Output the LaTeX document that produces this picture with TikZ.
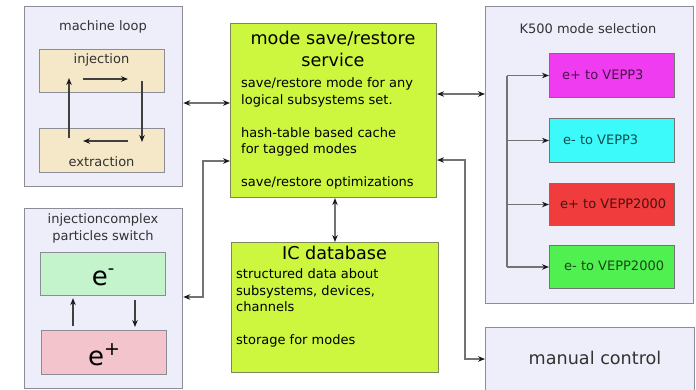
\documentclass[tikz,border=0pt]{standalone}
\usepackage{fontspec}
\setmainfont{DejaVu Sans}
\usetikzlibrary{arrows.meta}
\definecolor{outerfill}{RGB}{238,238,250}
\definecolor{outerdraw}{RGB}{140,140,150}
\definecolor{wheatfill}{RGB}{245,232,200}
\definecolor{svcfill}{RGB}{205,246,62}
\definecolor{svcdraw}{RGB}{125,135,90}
\definecolor{emfill}{RGB}{196,244,204}
\definecolor{epfill}{RGB}{244,196,204}
\definecolor{magfill}{RGB}{240,60,240}
\definecolor{cyafill}{RGB}{60,250,250}
\definecolor{redfill}{RGB}{240,60,60}
\definecolor{grnfill}{RGB}{80,240,80}
\definecolor{linegrey}{RGB}{115,115,115}
\definecolor{titlegrey}{RGB}{50,50,50}
\tikzset{
  outer/.style={draw=outerdraw, fill=outerfill, line width=1.3pt, anchor=north west, inner sep=0pt},
  inner/.style={draw=outerdraw, line width=1.1pt, anchor=north west, inner sep=0pt},
  conn/.style={draw=linegrey, line width=1.1pt},
  tconn/.style={draw=black!75, line width=1.1pt},
  small/.style={font=\fontsize{13}{16.5}\selectfont, inner sep=0pt},
  big/.style={font=\fontsize{17.6}{22}\selectfont, inner sep=0pt},
  huge/.style={font=\fontsize{26}{30}\selectfont, inner sep=0pt},
  kbox/.style={draw=black!55, line width=1pt, anchor=north west, inner sep=0pt, minimum width=125pt, minimum height=44pt},
}
\begin{document}
\begin{tikzpicture}[x=1pt,y=-1pt,>={Stealth[length=7pt,width=5.5pt,color=black!90]}]
\clip (0,0) rectangle (696,389);
\fill[white] (0,0) rectangle (696,389);

% machine loop
\node[outer, minimum width=158pt, minimum height=180pt] (loop) at (24,6) {};
\node[small, text=titlegrey, anchor=base] (looptitle) at (103,30.5) {machine loop};
\node[inner, fill=wheatfill, minimum width=125pt, minimum height=43pt] (inj) at (39,49) {};
\node[inner, fill=wheatfill, minimum width=125pt, minimum height=44pt] (ext) at (39,128) {};
\node[small, text=titlegrey, anchor=base] (injt) at (101.5,63.5) {injection};
\node[small, text=titlegrey, anchor=base] (extt) at (101.5,166.5) {extraction};
\coordinate (l1) at (83,79); \coordinate (l2) at (128,79);
\coordinate (l3) at (142,81); \coordinate (l4) at (142,142);
\coordinate (l5) at (128,141); \coordinate (l6) at (83,141);
\coordinate (l7) at (69,138); \coordinate (l8) at (69,78);
\draw[tconn,->] (l1) -- (l2);
\draw[tconn,->] (l3) -- (l4);
\draw[tconn,->] (l5) -- (l6);
\draw[tconn,->] (l7) -- (l8);

% particles switch
\node[outer, minimum width=158pt, minimum height=180pt] (switch) at (24,207.5) {};
\node[small, text=titlegrey, anchor=base, align=center, font=\fontsize{13}{17}\selectfont] (swtitle) at (103,240.5) {injectioncomplex\\particles switch};
\node[inner, fill=emfill, minimum width=125pt, minimum height=43pt] (eminus) at (40,252) {};
\node[inner, fill=epfill, minimum width=125pt, minimum height=44pt] (eplus) at (41,330) {};
\node[huge, anchor=base] (emt) at (103,285.5) {e\raisebox{0.42em}{\fontsize{18}{18}\selectfont -}};
\node[huge, anchor=base] (ept) at (104,365) {e\raisebox{0.36em}{\fontsize{19}{19}\selectfont +}};
\coordinate (sa) at (73,0); \coordinate (sb) at (135,0);
\draw[tconn,->,shorten <=4pt,shorten >=2pt] (eplus.north -| sa) -- (eminus.south -| sa);
\draw[tconn,->,shorten <=4pt,shorten >=3pt] (eminus.south -| sb) -- (eplus.north -| sb);

% mode save/restore service
\node[inner, draw=svcdraw, fill=svcfill, minimum width=206pt, minimum height=174pt] (svc) at (230,23) {};
\node[big, anchor=base, align=center] (svctitle) at (333,66) {mode save/restore\\service};
\node[small, anchor=base west, align=left] (svctext) at (241,186.5) {save/restore mode for any\\logical subsystems set.\\[16.5pt]hash-table based cache\\for tagged modes\\[16.5pt]save/restore optimizations};

% IC database
\node[inner, draw=svcdraw, fill=svcfill, minimum width=207pt, minimum height=130pt] (ic) at (230.5,242) {};
\node[big, anchor=base] (ictitle) at (334.5,259.5) {IC database};
\node[small, anchor=base west, align=left] (ictext) at (236,344.5) {structured data about\\subsystems, devices,\\channels\\[16.5pt]storage for modes};

% K500 mode selection
\node[outer, minimum width=208pt, minimum height=297pt] (k500) at (485,6) {};
\node[small, text=titlegrey, anchor=base] (ktitle) at (588,33.5) {K500 mode selection};
\node[kbox, fill=magfill] (b1) at (549,53) {};
\node[kbox, fill=cyafill] (b2) at (549,118) {};
\node[kbox, fill=redfill, minimum height=42pt] (b3) at (549,183) {};
\node[kbox, fill=grnfill, minimum height=43pt] (b4) at (549,245) {};
\node[small, anchor=base west, text=black!70!magfill] (b1t) at (562,79.5) {e+ to VEPP3};
\node[small, anchor=base west, text=black!70!cyafill] (b2t) at (563,144.5) {e- to VEPP3};
\node[small, anchor=base west, text=black!70!redfill] (b3t) at (560,208.5) {e+ to VEPP2000};
\node[small, anchor=base west, text=black!70!grnfill] (b4t) at (564,270.5) {e- to VEPP2000};
\coordinate (vx) at (507,0);
\draw[conn] (b1.west -| vx) -- (b4.west -| vx);
\foreach \b in {b1,b2,b3,b4} \draw[conn,->] (\b.west -| vx) -- (\b.west);

% manual control
\node[outer, line width=1.1pt, minimum width=209pt, minimum height=80pt] (manual) at (485,327) {};
\node[big, text=titlegrey, anchor=base] (mant) at (595,364) {manual control};

% connectors
\coordinate (y103) at (0,103);
\draw[conn,<->] (loop.east |- y103) -- (svc.west |- y103);
\coordinate (sw1) at (203,297); \coordinate (sw2) at (203,161);
\draw[conn,<->] (switch.east |- sw1) -- (sw1) -- (sw2) -- (svc.west |- sw2);
\coordinate (y94) at (0,94);
\draw[conn,<->] (svc.east |- y94) -- (k500.west |- y94);
\coordinate (m1) at (465,160); \coordinate (m2) at (465,359);
\draw[conn,<->] (svc.east |- m1) -- (m1) -- (m2) -- (manual.west |- m2);
\coordinate (icx) at (335,0);
\draw[conn,<->] (svc.south -| icx) -- (ic.north -| icx);
\end{tikzpicture}
\end{document}
